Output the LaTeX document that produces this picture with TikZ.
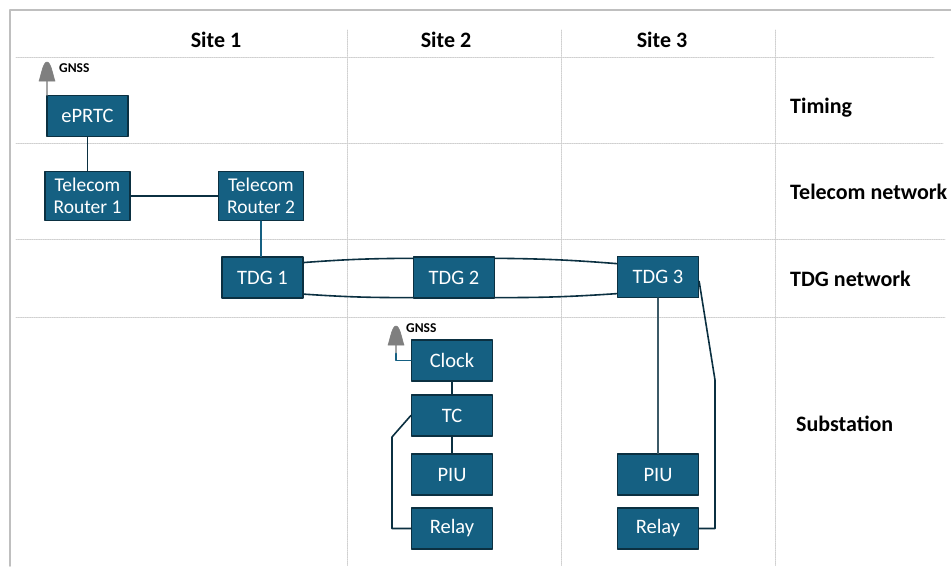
\documentclass[tikz,border=0pt]{standalone}
\usepackage{fontspec}
\setmainfont{Carlito}
\usepackage{tikz}
\definecolor{boxfill}{HTML}{156082}
\definecolor{boxline}{HTML}{0B3041}
\definecolor{gridgray}{HTML}{CFCFCF}
\definecolor{framegray}{HTML}{BFBFBF}
\definecolor{gnssgray}{HTML}{7F7F7F}
\tikzset{
  unitbox/.style={draw=boxline,line width=1.3pt,fill=boxfill,text=white,minimum width=81pt,minimum height=41pt,inner sep=0pt,align=center,font=\fontsize{20.5}{23}\selectfont},
  routerbox/.style={unitbox,minimum width=85pt,minimum height=49pt,font=\fontsize{19.5}{22}\selectfont},
  heading/.style={font=\fontsize{22}{24}\selectfont\bfseries,text=black,inner sep=0pt},
  rowlabel/.style={heading,anchor=west},
  gnsslabel/.style={font=\fontsize{13.5}{15}\selectfont\bfseries,text=black,inner sep=0pt,anchor=west},
  gridline/.style={gridgray,line width=0.8pt,densely dotted},
  wire/.style={boxline,line width=1.6pt},
  wirelight/.style={boxfill,line width=1.6pt},
  gnssstem/.style={gnssgray!70,line width=1.5pt},
  gnsstop/.style={gnssgray,draw=gnssgray,line width=0.6pt,line join=round}
}
\begin{document}
\begin{tikzpicture}[line cap=round,line join=round,x=1pt,y=-1pt]
\useasboundingbox (0,0) rectangle (951,566);
\fill[white] (0,0) rectangle (951,566);
% frame and grid
\draw[framegray,line width=1.6pt] (10,566)-- (10,10)-- (951,10);
\draw[gridline] (16,57)-- (934,57);
\draw[gridline] (16,143)-- (943,143);
\draw[gridline] (16,239)-- (945,239);
\draw[gridline] (16,317)-- (945,317);
\draw[gridline] (347,30)-- (347,566);
\draw[gridline] (561,30)-- (561,566);
\draw[gridline] (775,30)-- (775,566);
% headings
\node[heading] (site1) at (216,39.5) {Site 1};
\node[heading] (site2) at (446,39.5) {Site 2};
\node[heading] (site3) at (662,39.5) {Site 3};
\node[rowlabel] (timing) at (790,108) {Timing};
\node[rowlabel] (telecom) at (790,191.5) {Telecom network};
\node[rowlabel] (tdgnet) at (790,278.5) {TDG network};
\node[rowlabel] (substation) at (796,424) {Substation};
% boxes
\node[unitbox] (eprtc) at (87.5,116) {\raisebox{-1pt}{ePRTC}};
\node[routerbox] (router1) at (87.5,196) {\raisebox{-1pt}{Telecom}\\\raisebox{-1pt}{Router 1}};
\node[routerbox] (router2) at (261,196) {\raisebox{-1pt}{Telecom}\\\raisebox{-1pt}{Router 2}};
\node[unitbox] (tdg1) at (262.5,277.5) {\raisebox{-1pt}{TDG 1}};
\node[unitbox] (tdg2) at (454,277.5) {\raisebox{-1pt}{TDG 2}};
\node[unitbox] (tdg3) at (658,277) {\raisebox{-1pt}{TDG 3}};
\node[unitbox] (clock) at (452,360.5) {\raisebox{-1pt}{Clock}};
\node[unitbox] (tc) at (452,415.5) {\raisebox{-1pt}{TC}};
\node[unitbox] (piu2) at (452,474.5) {\raisebox{-1pt}{PIU}};
\node[unitbox] (relay2) at (452,528.5) {\raisebox{-1pt}{Relay}};
\node[unitbox] (piu3) at (658,474.5) {\raisebox{-1pt}{PIU}};
\node[unitbox] (relay3) at (658,528.5) {\raisebox{-1pt}{Relay}};
% gnss
\coordinate (gnss1) at (47,81);
\coordinate (gnss2) at (396,345);
\draw[gnssstem] (gnss1)-- (gnss1 |- eprtc.north);
\draw[gnssstem] (gnss2)-- ++(0,8);
\draw[wirelight] (gnss2 |- clock.west)++(0,-7)-- ++(0,7)-- (clock.west);
\fill[gnsstop,shift={(gnss1)}] (-8,0) .. controls (-6,-5) and (-4,-19) .. (0,-19) .. controls (4,-19) and (6,-5) .. (8,0)-- cycle;
\fill[gnsstop,shift={(gnss2)}] (-8,0) .. controls (-6,-5) and (-4,-19) .. (0,-19) .. controls (4,-19) and (6,-5) .. (8,0)-- cycle;
\node[gnsslabel] (gnsstext1) at (59,68) {GNSS};
\node[gnsslabel] (gnsstext2) at (406,328) {GNSS};
% connectors
\draw[wire] (eprtc)-- (router1);
\draw[wire] (router1)-- (router2);
\draw[wirelight] (router2.south)-- (router2.south |- tdg1.north);
\draw[wire] (tdg1.20) to[bend left=2] (tdg2.155);
\draw[wire] (tdg2.25) to[bend left=2] (tdg3.162);
\draw[wire] (tdg1.-22) to[bend right=2] (tdg2.-154);
\draw[wire] (tdg2.-26) to[bend right=2] (tdg3.-158);
\draw[wire] (clock)-- (tc);
\draw[wire] (tc)-- (piu2);
\coordinate (tcbend) at (392,437);
\draw[wire] (tc.west)-- (tcbend)-- (tcbend |- relay2.west)-- (relay2.west);
\draw[wire,boxline!80] (tdg3)-- (piu3);
\coordinate (relaybend) at (715,380);
\draw[wire] (tdg3.-6)-- (relaybend)-- (relaybend |- relay3.east)-- (relay3.east);
\end{tikzpicture}
\end{document}
